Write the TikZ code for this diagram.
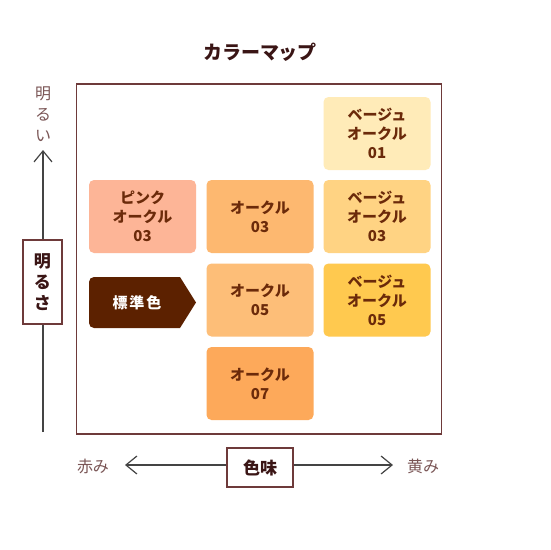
\documentclass[tikz,border=0pt]{standalone}
\usepackage{fontspec}
\setmainfont{Noto Sans CJK JP}
\usetikzlibrary{arrows.meta}
\definecolor{frame}{HTML}{6E3A3A}
\definecolor{axis}{HTML}{444444}
\definecolor{lbl}{HTML}{7A5555}
\definecolor{swtext}{HTML}{6B2A0A}
\definecolor{ttl}{HTML}{3A1515}
\definecolor{pinkoc}{HTML}{FDB597}
\definecolor{oc03}{HTML}{FDB870}
\definecolor{oc05}{HTML}{FDBE78}
\definecolor{oc07}{HTML}{FDA95A}
\definecolor{be01}{HTML}{FFEBB8}
\definecolor{be03}{HTML}{FFD383}
\definecolor{be05}{HTML}{FFC94F}
\definecolor{stdc}{HTML}{5C2100}
\tikzset{
  swatch/.style={rounded corners=5pt, minimum width=107pt, minimum height=73pt, inner sep=0pt,
    text=swtext, font=\fontsize{15}{19}\selectfont\bfseries, align=center},
  axlabel/.style={text=lbl, font=\fontsize{16}{21}\selectfont, align=center, inner sep=0pt},
  axbox/.style={draw=frame, line width=1.2pt, fill=white, text=ttl, align=center,
    font=\fontsize{17}{21}\selectfont\bfseries, inner sep=0pt},
  axline/.style={draw=axis, line width=1.2pt, -{Straight Barb[length=11pt,width=18pt,line width=1.2pt]}}
}
\begin{document}
\begin{tikzpicture}[x=1pt,y=-1pt]
\useasboundingbox (0,0) rectangle (550,550);
\fill[white] (0,0) rectangle (550,550);
% title
\node[text=ttl, font=\fontsize{19}{22}\selectfont\bfseries] (title) at (260,52) {カラーマップ};
% frame
\draw[frame, line width=1.1pt] (76.5,84) rectangle (441.5,434);
% vertical axis
\coordinate (vb) at (43,432);
\coordinate (vt) at (43,150);
\draw[axline] (vb) -- (vt);
\node[axlabel] (bright) at (43,114) {明\\る\\い};
\node[axbox, minimum width=39pt, minimum height=84pt] (brightness) at (42.5,282) {明\\る\\さ};
% horizontal axis
\node[axbox, minimum width=66pt, minimum height=39pt] (hue) at (260,467.5) {色味};
\coordinate (hl) at (125,465);
\coordinate (hr) at (393,465);
\draw[axline] (hue.west |- hl) -- (hl);
\draw[axline] (hue.east |- hr) -- (hr);
\node[axlabel] (red) at (93,466) {赤み};
\node[axlabel] (yellow) at (423,466) {黄み};
% swatches
\node[swatch, fill=be01] (b01) at (377,133.5) {ベージュ\\オークル\\01};
\node[swatch, fill=pinkoc] (p03) at (142.5,216.5) {ピンク\\オークル\\03};
\node[swatch, fill=oc03] (o03) at (260,216.5) {オークル\\03};
\node[swatch, fill=be03] (b03) at (377,216.5) {ベージュ\\オークル\\03};
\node[swatch, fill=oc05] (o05) at (260,300) {オークル\\05};
\node[swatch, fill=be05] (b05) at (377,300) {ベージュ\\オークル\\05};
\node[swatch, fill=oc07] (o07) at (260,383.5) {オークル\\07};
% standard
\fill[stdc] (180,277) -- (196,302.5) -- (180,328) [rounded corners=5pt] -- (89,328) -- (89,277) [sharp corners] -- cycle;
\node[text=white, font=\fontsize{15}{19}\selectfont\bfseries] (std) at (137,302.5) {標\kern2pt 準\kern2pt 色};
\end{tikzpicture}
\end{document}
